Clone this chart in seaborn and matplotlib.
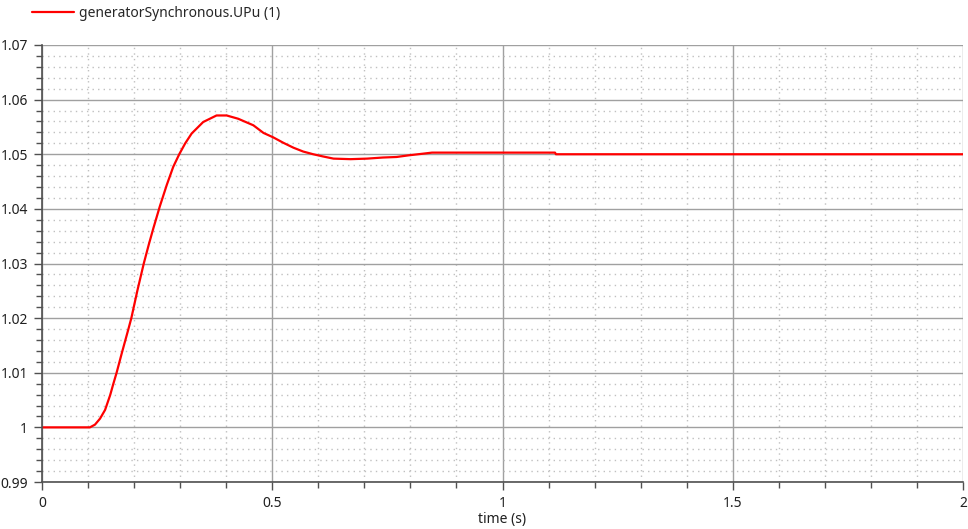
import numpy as np
import pandas as pd
import matplotlib
matplotlib.use("Agg")
import matplotlib.pyplot as plt
import matplotlib.ticker as mticker
import seaborn as sb

# dati (tempo in s, tensione in p.u.)
time_s = [0.0, 0.104, 0.115, 0.126, 0.137, 0.148, 0.155, 0.162, 0.173, 0.187,
          0.194, 0.207, 0.221, 0.232, 0.242, 0.256, 0.271, 0.285, 0.298, 0.311,
          0.325, 0.350, 0.379, 0.401, 0.426, 0.459, 0.481, 0.502, 0.524, 0.546,
          0.567, 0.589, 0.610, 0.633, 0.670, 0.706, 0.740, 0.770, 0.796, 0.827,
          0.847, 1.114, 1.116, 2.0]
upu = [1.0, 1.0, 1.0005, 1.0016, 1.0032, 1.0059, 1.0080, 1.0100, 1.0135, 1.0178,
       1.0200, 1.0250, 1.0300, 1.0335, 1.0365, 1.0405, 1.0444, 1.0477, 1.0500, 1.0520,
       1.0538, 1.0559, 1.0571, 1.0571, 1.0565, 1.0553, 1.0539, 1.0531, 1.0521, 1.0512,
       1.0505, 1.0500, 1.0496, 1.0492, 1.0491, 1.0492, 1.0494, 1.0495, 1.0498, 1.0501,
       1.0503, 1.0503, 1.0500, 1.0500]
series_name = "generatorSynchronous.UPu (1)"

df = pd.DataFrame({"time": time_s, "value": upu})

sb.set_style("white")
plt.rcParams['font.family'] = ['Noto Sans', 'DejaVu Sans']

fig = plt.figure(figsize=(9.68, 5.29), dpi=100)
ax = fig.add_axes([42 / 968, 1 - 482 / 529, 921 / 968, 437 / 529])

sb.lineplot(data=df, x="time", y="value", ax=ax, color="#ff0000", linewidth=1.6,
            label=series_name, legend=False)

ax.set_xlim(0, 2)
ax.set_ylim(0.99, 1.07)
ax.xaxis.set_major_locator(mticker.MultipleLocator(0.5))
ax.xaxis.set_minor_locator(mticker.MultipleLocator(0.1))
ax.yaxis.set_major_locator(mticker.MultipleLocator(0.01))
ax.yaxis.set_minor_locator(mticker.MultipleLocator(0.002))
ax.xaxis.set_major_formatter(mticker.FormatStrFormatter('%g'))
ax.yaxis.set_major_formatter(mticker.FuncFormatter(lambda v, p: '%g' % round(v, 4)))

# griglia principale continua e secondaria punteggiata
ax.grid(which='major', color='#a0a0a0', linewidth=1, linestyle='-')
ax.grid(which='minor', color='#c0c0c0', linewidth=1, linestyle=(0, (1, 3)))
ax.set_axisbelow(True)

for side in ['top', 'right']:
    ax.spines[side].set_visible(False)
for side in ['left', 'bottom']:
    ax.spines[side].set_color('#505050')
    ax.spines[side].set_linewidth(1.2)

ax.tick_params(which='major', direction='out', length=6, width=1, color='#505050',
               labelsize=10, labelcolor='#202020', left=True, bottom=True, pad=4)
ax.tick_params(which='minor', direction='out', length=4, width=1, color='#505050',
               left=True, bottom=True)

ax.set_xlabel("time (s)", fontsize=10, labelpad=1, color='#202020')
ax.set_ylabel("")

fig.legend(handles=ax.get_lines()[:1], labels=[series_name], loc='upper left',
           bbox_to_anchor=(26 / 968, 1.0), frameon=False, fontsize=10,
           handlelength=3.0, handletextpad=0.35, borderaxespad=0, borderpad=0.45)

plt.savefig("out.png", dpi=100)
